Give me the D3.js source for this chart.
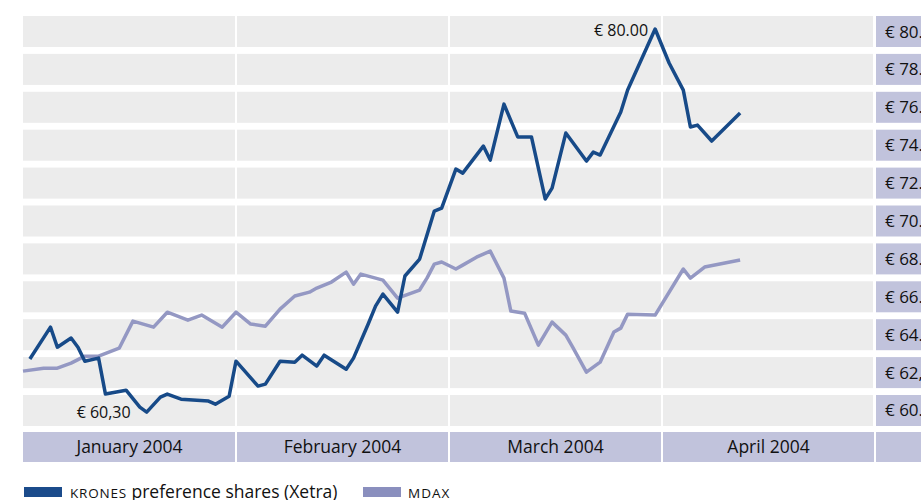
<!DOCTYPE html>
<html>
<head>
<meta charset="utf-8">
<script src="https://cdn.jsdelivr.net/npm/d3@7"></script>
<style>
  body { margin: 0; background: #fff; }
  text { font-family: 'Open Sans', sans-serif; fill: #111; }
</style>
</head>
<body>
<svg id="chart" width="921" height="500"></svg>
<script>
// price ticks shown in the right-hand column (the 62 one has a comma in the original)
const priceLabels = ['€ 80.00', '€ 78.00', '€ 76.00', '€ 74.00', '€ 72.00', '€ 70.00',
  '€ 68.00', '€ 66.00', '€ 64.00', '€ 62,00', '€ 60.00'];
const months = ['January 2004', 'February 2004', 'March 2004', 'April 2004'];
const monthStarts = ['2004-01-01', '2004-02-01', '2004-03-01', '2004-04-01', '2004-05-01'];

// KRONES preference shares (Xetra), euro
const kronesDates = ['2004-01-02', '2004-01-05', '2004-01-06', '2004-01-08', '2004-01-09', '2004-01-10',
  '2004-01-12', '2004-01-13', '2004-01-16', '2004-01-18', '2004-01-19', '2004-01-21', '2004-01-22',
  '2004-01-24', '2004-01-28', '2004-01-29', '2004-01-31', '2004-02-01', '2004-02-04', '2004-02-05',
  '2004-02-07', '2004-02-09', '2004-02-10', '2004-02-12', '2004-02-13', '2004-02-16', '2004-02-17',
  '2004-02-19', '2004-02-20', '2004-02-21', '2004-02-23', '2004-02-24', '2004-02-26', '2004-02-28',
  '2004-02-29', '2004-03-02', '2004-03-03', '2004-03-06', '2004-03-07', '2004-03-09', '2004-03-11',
  '2004-03-13', '2004-03-15', '2004-03-16', '2004-03-18', '2004-03-21', '2004-03-22', '2004-03-23',
  '2004-03-26', '2004-03-27', '2004-03-31', '2004-04-02', '2004-04-04', '2004-04-05', '2004-04-06',
  '2004-04-08', '2004-04-12'];
const kronesValues = [63.03, 64.67, 63.64, 64.11, 63.64, 62.92,
  63.08, 61.23, 61.43, 60.56, 60.30, 61.07, 61.23,
  60.97, 60.87, 60.71, 61.12, 62.92, 61.64, 61.74,
  62.92, 62.87, 63.23, 62.67, 63.23, 62.51, 63.08,
  64.83, 65.75, 66.37, 65.44, 67.30, 68.17, 70.64,
  70.79, 72.80, 72.59, 73.98, 73.26, 76.14, 74.45,
  74.45, 71.26, 71.82, 74.65, 73.21, 73.67, 73.52,
  75.73, 76.86, 80.00, 78.25, 76.86, 74.96, 75.06,
  74.24, 75.68];

// MDAX, rebased to the same euro scale
const mdaxDates = ['2004-01-01', '2004-01-04', '2004-01-06', '2004-01-08', '2004-01-10', '2004-01-12',
  '2004-01-15', '2004-01-17', '2004-01-20', '2004-01-22', '2004-01-25', '2004-01-27', '2004-01-30',
  '2004-02-01', '2004-02-03', '2004-02-05', '2004-02-07', '2004-02-09', '2004-02-11', '2004-02-12',
  '2004-02-14', '2004-02-16', '2004-02-17', '2004-02-18', '2004-02-21', '2004-02-23', '2004-02-26',
  '2004-02-27', '2004-02-28', '2004-02-29', '2004-03-02', '2004-03-03', '2004-03-05', '2004-03-07',
  '2004-03-09', '2004-03-10', '2004-03-12', '2004-03-14', '2004-03-16', '2004-03-18', '2004-03-19',
  '2004-03-21', '2004-03-23', '2004-03-25', '2004-03-26', '2004-03-27', '2004-03-31', '2004-04-04',
  '2004-04-05', '2004-04-07', '2004-04-12'];
const mdaxValues = [62.41, 62.56, 62.56, 62.82, 63.18, 63.18,
  63.59, 64.98, 64.67, 65.44, 65.03, 65.29, 64.67,
  65.44, 64.83, 64.72, 65.60, 66.27, 66.47, 66.68,
  66.99, 67.50, 66.88, 67.40, 67.09, 66.16, 66.58,
  67.19, 67.91, 68.02, 67.66, 67.86, 68.27, 68.58,
  67.19, 65.50, 65.39, 63.75, 64.93, 64.26, 63.64,
  62.36, 62.87, 64.42, 64.62, 65.34, 65.29, 67.66,
  67.19, 67.76, 68.12];

const parseDate = d3.timeParse('%Y-%m-%d');
const krones = kronesDates.map((d, i) => ({ date: parseDate(d), value: kronesValues[i] }));
const mdax = mdaxDates.map((d, i) => ({ date: parseDate(d), value: mdaxValues[i] }));

const svg = d3.select('#chart');
const left = 23, plotRight = 873, labelLeft = 875;
const bandColor = '#ececec', lavender = '#c1c3dc';
const kronesColor = '#174a88', mdaxColor = '#9498c3';

// months get equal width regardless of their length
let xScale = d3.scaleTime().domain(monthStarts.map(parseDate)).range([23, 236, 449, 662, 875]);
let rowScale = d3.scaleBand().domain(priceLabels).range([16, 426]).paddingInner(0.182);
let yScale = d3.scaleLinear().domain([60, 80]).range([418, 29]);

// grey background rows
svg.append('g').selectAll('rect').data(priceLabels).enter().append('rect')
  .attr('x', left)
  .attr('y', d => rowScale(d))
  .attr('width', plotRight - left)
  .attr('height', rowScale.bandwidth())
  .style('fill', bandColor);

// price labels on the right, cut off by the page edge like the original
let labelG = svg.append('g').selectAll('g').data(priceLabels).enter().append('g')
  .attr('transform', d => `translate(${labelLeft}, ${rowScale(d)})`);
labelG.append('rect')
  .attr('width', 60)
  .attr('height', rowScale.bandwidth())
  .style('fill', lavender);
labelG.append('text')
  .attr('x', 10)
  .attr('y', rowScale.bandwidth() / 2 + 6)
  .style('font-size', '17px')
  .text(d => d);

// month band along the bottom
svg.append('rect')
  .attr('x', left)
  .attr('y', 432)
  .attr('width', 921 - left)
  .attr('height', 30)
  .style('fill', lavender);

// white separators at the month boundaries
svg.append('g').selectAll('line').data(monthStarts.slice(1).map(parseDate)).enter().append('line')
  .attr('x1', d => xScale(d))
  .attr('x2', d => xScale(d))
  .attr('y1', 10)
  .attr('y2', 464)
  .style('stroke', '#fff')
  .style('stroke-width', '2px');

svg.append('g').selectAll('text').data(months).enter().append('text')
  .attr('x', (d, i) => (xScale(parseDate(monthStarts[i])) + xScale(parseDate(monthStarts[i + 1]))) / 2)
  .attr('y', 453)
  .attr('text-anchor', 'middle')
  .style('font-size', '17.5px')
  .text(d => d);

let line = d3.line()
  .x(d => xScale(d.date))
  .y(d => yScale(d.value));

svg.append('path')
  .datum(mdax)
  .attr('d', line)
  .style('fill', 'none')
  .style('stroke', mdaxColor)
  .style('stroke-width', '3.5px')
  .style('stroke-linejoin', 'round');

svg.append('path')
  .datum(krones)
  .attr('d', line)
  .style('fill', 'none')
  .style('stroke', kronesColor)
  .style('stroke-width', '3.5px')
  .style('stroke-linejoin', 'round');

// high and low annotations
let high = krones[d3.maxIndex(krones, d => d.value)];
let low = krones[d3.minIndex(krones, d => d.value)];
svg.append('text')
  .attr('x', xScale(high.date) - 7)
  .attr('y', yScale(high.value) + 7)
  .attr('text-anchor', 'end')
  .style('font-size', '16px')
  .text('€ ' + high.value.toFixed(2));
svg.append('text')
  .attr('x', xScale(low.date) - 16)
  .attr('y', yScale(low.value) + 6)
  .attr('text-anchor', 'end')
  .style('font-size', '16px')
  .text('€ ' + low.value.toFixed(2).replace('.', ','));

// legend
let legend = svg.append('g').attr('transform', 'translate(24, 487)');
legend.append('rect').attr('width', 38).attr('height', 10).style('fill', '#1b4b8b');
let t1 = legend.append('text').attr('x', 46).attr('y', 10.5).style('font-size', '17.5px');
t1.append('tspan').style('font-size', '13.5px').style('letter-spacing', '0.8px').text('KRONES');
t1.append('tspan').text(' preference shares (Xetra)');
legend.append('rect').attr('x', 339).attr('width', 38).attr('height', 10).style('fill', '#8a8fbe');
legend.append('text').attr('x', 384).attr('y', 10.5)
  .style('font-size', '13.5px').style('letter-spacing', '1px').text('MDAX');
</script>
</body>
</html>
